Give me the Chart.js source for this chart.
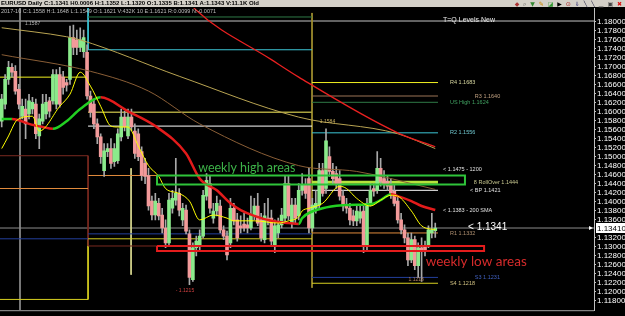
<!DOCTYPE html>
<html>
<head>
<meta charset="utf-8">
<script src="https://cdn.jsdelivr.net/npm/chart.js@4.4.0/dist/chart.umd.min.js"></script>
<style>
  html, body { margin: 0; padding: 0; background: #000; }
  #wrap { position: relative; width: 625px; height: 316px; overflow: hidden; background: #000; }
  #chart { position: absolute; left: 0; top: 0; }
  #titlebar { position: absolute; left: 0; top: 0; width: 625px; height: 7px; background: #d4d0c8;
    font: bold 6px "Liberation Sans", Arial, sans-serif; line-height: 7px; color: #000; white-space: nowrap; }
  #titlebar .t { position: absolute; left: 1px; top: 0; }
  #titlebar .icons { position: absolute; right: 2px; top: 0; font: 6px "DejaVu Sans", sans-serif; line-height: 7px; letter-spacing: 1px; }
  #info { position: absolute; left: 1px; top: 8px; font: 5.5px "Liberation Sans", Arial, sans-serif; color: #bdbdbd; white-space: nowrap; }
  #tq { position: absolute; left: 443px; top: 16px; font: 7px "Liberation Sans", Arial, sans-serif; color: #e8e8e8; white-space: nowrap; }
</style>
</head>
<body>
<div id="wrap">
  <canvas id="chart" width="625" height="316"></canvas>
  <div id="titlebar">
    <span class="t">EURUSD Daily C:1.1341 H0.0006 H:1.1352 L:1.1320 O:1.1335 B:1.1341 A:1.1343 V:11.1K Old</span>
    <span class="icons"><span style="color:#a33">◆</span> <span style="color:#555">⌕</span> <span style="color:#383">▼</span> <span style="color:#c80">✎</span> <span style="color:#393">◪</span> <span style="color:#000">▶</span> <span style="color:#a22">⊙</span> <span style="color:#337">⇓</span> <span style="color:#224">╲</span> <span style="color:#224">╲</span> <span style="color:#444">▁</span> <span style="color:#444">▣</span> <span style="color:#d11">✖</span></span>
  </div>
  <div id="info">2017-10 C:1.1558 H:1.1648 L:1.1549 O:1.1621 V:432K 10 E:1.1621 R:0.0099 N:-0.0071</div>
  <div id="tq">T=Q Levels New</div>
</div>
<script>
// daily candles: [open, high, low, close]
const candles = [
  [1.1579, 1.1639, 1.1566, 1.1628], [1.1617, 1.1683, 1.1606, 1.1672], [1.1672, 1.1712, 1.1661, 1.1699],
  [1.1699, 1.1707, 1.1677, 1.1688], [1.1690, 1.1703, 1.1639, 1.1646], [1.1650, 1.1661, 1.1606, 1.1617],
  [1.1590, 1.1628, 1.1584, 1.1612], [1.1606, 1.1628, 1.1540, 1.1573], [1.1595, 1.1639, 1.1584, 1.1624],
  [1.1606, 1.1632, 1.1595, 1.1621], [1.1617, 1.1628, 1.1540, 1.1551], [1.1546, 1.1595, 1.1518, 1.1584],
  [1.1579, 1.1639, 1.1573, 1.1617], [1.1595, 1.1639, 1.1584, 1.1621], [1.1624, 1.1632, 1.1588, 1.1601],
  [1.1624, 1.1694, 1.1617, 1.1683], [1.1617, 1.1694, 1.1606, 1.1683], [1.1683, 1.1699, 1.1610, 1.1617],
  [1.1677, 1.1690, 1.1639, 1.1654], [1.1665, 1.1672, 1.1646, 1.1659], [1.1672, 1.1791, 1.1661, 1.1765],
  [1.1765, 1.1793, 1.1727, 1.1743], [1.1760, 1.1782, 1.1727, 1.1743], [1.1743, 1.1787, 1.1734, 1.1760],
  [1.1734, 1.1782, 1.1721, 1.1765], [1.1732, 1.1749, 1.1628, 1.1635], [1.1635, 1.1646, 1.1588, 1.1599],
  [1.1617, 1.1628, 1.1562, 1.1573], [1.1573, 1.1584, 1.1529, 1.1544], [1.1544, 1.1551, 1.1485, 1.1500],
  [1.1469, 1.1529, 1.1456, 1.1513], [1.1511, 1.1529, 1.1500, 1.1518], [1.1518, 1.1540, 1.1474, 1.1485],
  [1.1489, 1.1529, 1.1478, 1.1518], [1.1491, 1.1562, 1.1485, 1.1551], [1.1544, 1.1606, 1.1535, 1.1588],
  [1.1588, 1.1601, 1.1557, 1.1566], [1.1546, 1.1606, 1.1540, 1.1588], [1.1588, 1.1606, 1.1557, 1.1566],
  [1.1557, 1.1573, 1.1496, 1.1507], [1.1551, 1.1562, 1.1491, 1.1500], [1.1511, 1.1522, 1.1447, 1.1458],
  [1.1485, 1.1496, 1.1440, 1.1456], [1.1458, 1.1474, 1.1381, 1.1390], [1.1401, 1.1412, 1.1359, 1.1370],
  [1.1370, 1.1418, 1.1359, 1.1401], [1.1396, 1.1407, 1.1359, 1.1368], [1.1370, 1.1385, 1.1330, 1.1341],
  [1.1341, 1.1359, 1.1297, 1.1308], [1.1308, 1.1418, 1.1301, 1.1403], [1.1385, 1.1425, 1.1374, 1.1407],
  [1.1403, 1.1496, 1.1392, 1.1418], [1.1418, 1.1429, 1.1368, 1.1381], [1.1359, 1.1396, 1.1346, 1.1385],
  [1.1381, 1.1392, 1.1328, 1.1334], [1.1328, 1.1337, 1.1215, 1.1231], [1.1226, 1.1308, 1.1222, 1.1297],
  [1.1297, 1.1323, 1.1279, 1.1312], [1.1303, 1.1337, 1.1292, 1.1323], [1.1323, 1.1425, 1.1319, 1.1414],
  [1.1412, 1.1462, 1.1403, 1.1447], [1.1440, 1.1456, 1.1374, 1.1385], [1.1363, 1.1396, 1.1352, 1.1379],
  [1.1379, 1.1412, 1.1368, 1.1396], [1.1390, 1.1403, 1.1330, 1.1337], [1.1337, 1.1346, 1.1315, 1.1323],
  [1.1323, 1.1334, 1.1270, 1.1281], [1.1308, 1.1407, 1.1297, 1.1385], [1.1385, 1.1396, 1.1348, 1.1357],
  [1.1359, 1.1374, 1.1312, 1.1319], [1.1346, 1.1368, 1.1330, 1.1341], [1.1350, 1.1374, 1.1334, 1.1341],
  [1.1348, 1.1363, 1.1330, 1.1341], [1.1341, 1.1412, 1.1337, 1.1370], [1.1368, 1.1407, 1.1359, 1.1390],
  [1.1390, 1.1418, 1.1346, 1.1352], [1.1359, 1.1374, 1.1312, 1.1319], [1.1315, 1.1396, 1.1308, 1.1368],
  [1.1363, 1.1407, 1.1348, 1.1357], [1.1363, 1.1381, 1.1301, 1.1312], [1.1301, 1.1359, 1.1286, 1.1346],
  [1.1330, 1.1363, 1.1319, 1.1348], [1.1348, 1.1385, 1.1341, 1.1370], [1.1363, 1.1458, 1.1352, 1.1440],
  [1.1440, 1.1458, 1.1359, 1.1368], [1.1352, 1.1407, 1.1341, 1.1392], [1.1392, 1.1407, 1.1352, 1.1363],
  [1.1368, 1.1440, 1.1359, 1.1425], [1.1425, 1.1462, 1.1414, 1.1436], [1.1436, 1.1451, 1.1407, 1.1418],
  [1.1451, 1.1474, 1.1330, 1.1341], [1.1341, 1.1407, 1.1334, 1.1392], [1.1385, 1.1425, 1.1374, 1.1396],
  [1.1392, 1.1485, 1.1385, 1.1469], [1.1469, 1.1485, 1.1412, 1.1418], [1.1429, 1.1562, 1.1418, 1.1535],
  [1.1500, 1.1522, 1.1456, 1.1467], [1.1467, 1.1485, 1.1440, 1.1451], [1.1462, 1.1478, 1.1429, 1.1440],
  [1.1451, 1.1469, 1.1403, 1.1412], [1.1412, 1.1425, 1.1379, 1.1390], [1.1392, 1.1407, 1.1374, 1.1385],
  [1.1385, 1.1396, 1.1348, 1.1359], [1.1368, 1.1381, 1.1346, 1.1357], [1.1357, 1.1390, 1.1346, 1.1379],
  [1.1363, 1.1390, 1.1352, 1.1377], [1.1379, 1.1390, 1.1286, 1.1301], [1.1301, 1.1407, 1.1292, 1.1396],
  [1.1396, 1.1440, 1.1390, 1.1425], [1.1429, 1.1440, 1.1412, 1.1423], [1.1425, 1.1511, 1.1418, 1.1474],
  [1.1474, 1.1496, 1.1434, 1.1445], [1.1451, 1.1469, 1.1429, 1.1440], [1.1445, 1.1458, 1.1425, 1.1434],
  [1.1436, 1.1451, 1.1407, 1.1418], [1.1423, 1.1436, 1.1390, 1.1396], [1.1401, 1.1412, 1.1352, 1.1359],
  [1.1359, 1.1374, 1.1328, 1.1337], [1.1337, 1.1348, 1.1308, 1.1319], [1.1319, 1.1330, 1.1257, 1.1270],
  [1.1270, 1.1330, 1.1264, 1.1315], [1.1315, 1.1323, 1.1248, 1.1257], [1.1257, 1.1308, 1.1231, 1.1297],
  [1.1297, 1.1319, 1.1222, 1.1290], [1.1301, 1.1312, 1.1279, 1.1292], [1.1303, 1.1346, 1.1297, 1.1337],
  [1.1330, 1.1374, 1.1319, 1.1337], [1.1335, 1.1352, 1.1320, 1.1341]
];

// moving averages as [candle index, price]
const fastMA = [[0,1.1518],[2,1.1546],[4,1.1577],[5,1.1584],[9,1.1590],[11,1.1557],[17,1.1612],[20,1.1639],
  [23,1.1688],[26,1.1657],[29,1.1612],[32,1.1568],[34,1.1566],[37,1.1566],[40,1.1524],[43,1.1480],[46,1.1456],
  [48,1.1429],[52,1.1418],[55,1.1401],[58,1.1359],[62,1.1370],[66,1.1363],[68,1.1357],[74,1.1357],[81,1.1352],
  [84,1.1357],[87,1.1366],[88,1.1379],[90,1.1385],[94,1.1396],[99,1.1434],[101,1.1429],[104,1.1407],
  [108,1.1390],[111,1.1403],[114,1.1414],[116,1.1412],[120,1.1379],[123,1.1346],[127,1.1337]];
const trendMA = [[0,1.1584],[3,1.1584],[5,1.1581],[8,1.1573],[12,1.1566],[15,1.1562],[19,1.1579],[23,1.1606],
  [29,1.1632],[37,1.1601],[45,1.1568],[54,1.1507],[58,1.1451],[63,1.1425],[67,1.1396],[70,1.1381],[74,1.1368],
  [79,1.1357],[84,1.1352],[87,1.1350],[88,1.1363],[94,1.1385],[100,1.1392],[105,1.1393],[108,1.1394],
  [111,1.1403],[114,1.1416],[116,1.1412],[120,1.1401],[123,1.1390],[127,1.1381]];
const tanMA = [[0,1.1787],[19,1.1767],[23,1.1760],[52,1.1679],[87,1.1588],[116,1.1551],[127,1.1518]];
const brownMA = [[0,1.1727],[26,1.1690],[43,1.1646],[58,1.1573],[87,1.1480],[104,1.1467],[127,1.1427]];
const redMA = [[50,1.1890],[57,1.1826],[79,1.1716],[87,1.1677],[116,1.1553],[127,1.1522]];

const tickValues = [1.118, 1.120, 1.122, 1.124, 1.126, 1.128, 1.130, 1.132, 1.136, 1.138, 1.140, 1.142,
  1.144, 1.146, 1.148, 1.150, 1.152, 1.154, 1.156, 1.158, 1.160, 1.162, 1.164, 1.166, 1.168, 1.170, 1.172,
  1.174, 1.176, 1.178, 1.180];
const bidPrice = 1.1341;
const topLine = 1.1802;

// pivot periods start at these candle indexes; level prices per period
const periodEdges = [-0.5, 25.3, 90.9, 127.8];
const levelYellow = [1.1677, null, 1.1665];
const levelBrown = [null, null, 1.1635];
const levelGreen = [null, 1.1811, 1.1621];
const levelCyan = [null, 1.1738, 1.1553];
const levelOlive = [null, 1.1599, null];
const levelWhite = [null, 1.1568, 1.1425];
const levelOrange = [1.1429, 1.1458, 1.1330];
const levelMaroon = [1.1502, 1.1301, null];
const levelBlue = [1.1317, 1.1328, 1.1231];
const levelGold = [1.1182, 1.1317, 1.1218];
const levelRollover = [null, null, 1.1443];

// vertical markers: [candle index, from price, to price]
const vGrey = [5.36, 1.1831, 1.1158];
const vCyan = [25.3, 1.1831, 1.1738];
const vMaroon = [25.3, 1.1502, 1.1301];
const vGold = [25.3, 1.1317, 1.1182];
const vOlive = [90.9, 1.1820, 1.1208];
const vPale = [37.9, 1.1474, 1.1237];

// zones: [from index, to index, top price, bottom price]
const highZone = [45.5, 135.7, 1.1458, 1.1438];
const lowZone = [45.5, 141.3, 1.1301, 1.1290];

const notes = [
  { text: 'weekly high areas', x: 71.8, y: 1.1474, color: '#3db349', font: '12.5px Lato', align: 'center' },
  { text: 'weekly low areas', x: 139.0, y: 1.1266, color: '#d62b2b', font: '13.5px Lato', align: 'center' },
  { text: '< 1.1341', x: 136.6, y: 1.1342, color: '#ffffff', font: '10px "Liberation Sans"' },
  { text: '< 1.1475 - 1200', x: 129.3, y: 1.1471, color: '#e0e0e0', font: '5.5px "Liberation Sans"' },
  { text: '8 RollOver 1.1444', x: 138.3, y: 1.1443, color: '#c8c890', font: '5.5px "Liberation Sans"' },
  { text: '< BP 1.1421', x: 137.2, y: 1.1425, color: '#e0e0e0', font: '5.5px "Liberation Sans"' },
  { text: '< 1.1383 - 200 SMA', x: 129.3, y: 1.1381, color: '#e0e0e0', font: '5.5px "Liberation Sans"' },
  { text: 'R1 1.1332', x: 131.3, y: 1.1328, color: '#b09070', font: '5.5px "Liberation Sans"' },
  { text: 'R4 1.1683', x: 131.3, y: 1.1665, color: '#d8d8a0', font: '5.5px "Liberation Sans"' },
  { text: 'R3 1.1640', x: 138.6, y: 1.1635, color: '#c0a080', font: '5.5px "Liberation Sans"' },
  { text: 'US High 1.1624', x: 131.3, y: 1.1620, color: '#40a060', font: '5.5px "Liberation Sans"' },
  { text: 'R2 1.1556', x: 131.3, y: 1.1553, color: '#70c8d0', font: '5.5px "Liberation Sans"' },
  { text: 'S3 1.1231', x: 138.6, y: 1.1230, color: '#4060c0', font: '5.5px "Liberation Sans"' },
  { text: 'S4 1.1218', x: 131.3, y: 1.1218, color: '#d0c080', font: '5.5px "Liberation Sans"' },
  { text: '1.1218', x: 121.4, y: 1.1226, color: '#b08060', font: '5px "Liberation Sans"', align: 'center' },
  { text: '- 1.1215', x: 51.0, y: 1.1202, color: '#d04040', font: '5px "Liberation Sans"' },
  { text: '1.1584', x: 93.2, y: 1.1577, color: '#c8b060', font: '5px "Liberation Sans"' },
  { text: '1.1587', x: 6.8, y: 1.1797, color: '#b0b0b0', font: '5px "Liberation Sans"' }
];

const xMin = -0.5, xMax = 173.5, yMin = 1.1158, yMax = 1.1831;

const pts = a => a.map(([x, y]) => ({ x, y }));
const isBull = c => c[3] >= c[0];
const datasets = [];
const line = (data, color, width, order, extra) => Object.assign({
  type: 'line', data, borderColor: color, borderWidth: width, pointRadius: 0, fill: false, tension: 0, order
}, extra || {});

// zones on top
[[highZone, '#2fc43a'], [lowZone, '#e41c1c']].forEach(([z, color]) => {
  datasets.push(line([{ x: z[0], y: z[2] }, { x: z[1], y: z[2] }, { x: z[1], y: z[3] },
    { x: z[0], y: z[3] }, { x: z[0], y: z[2] }], color, 2, 0));
});

// moving averages
datasets.push(line(pts(fastMA), '#ffff00', 1, 1, { cubicInterpolationMode: 'monotone' }));
datasets.push(line(pts(trendMA), '#22d022', 2.5, 1, {
  cubicInterpolationMode: 'monotone',
  segment: { borderColor: ctx => ctx.p1.parsed.y >= ctx.p0.parsed.y ? '#22d022' : '#e31b1b' }
}));
datasets.push(line(pts(redMA), '#e82020', 1.3, 1, { cubicInterpolationMode: 'monotone' }));
datasets.push(line(pts(tanMA), '#b9a452', 1, 1, { cubicInterpolationMode: 'monotone' }));
datasets.push(line(pts(brownMA), '#8a5e36', 1, 1, { cubicInterpolationMode: 'monotone' }));

// candles
datasets.push({
  type: 'bar', order: 2, grouped: false, barThickness: 3, minBarLength: 1, borderWidth: 0,
  data: candles.map((c, i) => ({ x: i, y: [Math.min(c[0], c[3]), Math.max(c[0], c[3])] })),
  backgroundColor: candles.map(c => isBull(c) ? '#8bea8b' : '#f29a9a')
});
datasets.push({
  type: 'bar', order: 3, grouped: false, barThickness: 1, borderWidth: 0,
  data: candles.map((c, i) => ({ x: i, y: [c[2], c[1]] })),
  backgroundColor: '#a8a8a8'
});

// level segments
[[levelYellow, '#f0f020', 1], [levelBrown, '#9c7456', 1], [levelGreen, '#2f7a47', 1], [levelCyan, '#3cc6d6', 1],
 [levelOlive, '#a9a23e', 1.5], [levelWhite, '#ffffff', 1], [levelOrange, '#e08a3c', 1], [levelMaroon, '#7a2a20', 1],
 [levelBlue, '#233f9c', 1], [levelGold, '#d8d020', 1], [levelRollover, '#b6e23c', 3]].forEach(([arr, color, w]) => {
  arr.forEach((v, p) => {
    if (v == null) return;
    datasets.push(line([{ x: periodEdges[p], y: v }, { x: periodEdges[p + 1], y: v }], color, w, 4));
  });
});

// verticals
[[vGrey, '#8a8a8a'], [vCyan, '#3cc6d6'], [vMaroon, '#7a2a20'], [vGold, '#d8d020'], [vOlive, '#a09030'],
 [vPale, '#d8d890']].forEach(([v, color]) => {
  datasets.push(line([{ x: v[0], y: v[1] }, { x: v[0], y: v[2] }], color, 1, 4));
});

// bid line and top line
datasets.push(line([{ x: xMin, y: bidPrice }, { x: xMax, y: bidPrice }], '#8c8c8c', 1, 4));
datasets.push(line([{ x: xMin, y: topLine }, { x: xMax, y: topLine }], '#c4c4c4', 1, 4));

const overlay = {
  id: 'overlay',
  afterDatasetsDraw(chart) {
    const { ctx, chartArea, scales: { x, y } } = chart;
    ctx.save();
    ctx.textBaseline = 'middle';
    notes.forEach(n => {
      ctx.font = n.font;
      ctx.fillStyle = n.color;
      ctx.textAlign = n.align || 'left';
      ctx.fillText(n.text, x.getPixelForValue(n.x), y.getPixelForValue(n.y));
    });
    // bottom border
    ctx.strokeStyle = '#a0a0a0';
    ctx.lineWidth = 1;
    ctx.beginPath();
    ctx.moveTo(0, chartArea.bottom + 0.5);
    ctx.lineTo(chartArea.right, chartArea.bottom + 0.5);
    ctx.stroke();
    // current price tag
    const py = Math.round(y.getPixelForValue(bidPrice));
    ctx.fillStyle = '#ffffff';
    ctx.fillRect(y.left + 2, py - 5, 29, 10);
    ctx.beginPath();
    ctx.moveTo(y.left - 5, py - 2); ctx.lineTo(y.left - 1, py); ctx.lineTo(y.left - 5, py + 2); ctx.closePath();
    ctx.fill();
    ctx.fillStyle = '#000';
    ctx.font = '8px "Liberation Sans"';
    ctx.textAlign = 'left';
    ctx.fillText(bidPrice.toFixed(5), y.left + 3, py + 0.5);
    ctx.restore();
  }
};

new Chart(document.getElementById('chart'), {
  type: 'bar',
  data: { datasets },
  options: {
    responsive: false,
    animation: false,
    events: [],
    layout: { padding: { top: 8, bottom: 2, left: 0, right: 0 } },
    plugins: { legend: { display: false }, tooltip: { enabled: false } },
    scales: {
      x: { type: 'linear', min: xMin, max: xMax, offset: false, display: false },
      y: {
        position: 'right', min: yMin, max: yMax,
        afterBuildTicks: s => { s.ticks = tickValues.map(v => ({ value: v })); },
        afterFit: s => { s.width = 31; },
        grid: { display: true, drawOnChartArea: false, drawTicks: true, tickLength: 2, color: '#c0c0c0' },
        border: { display: true, color: '#c0c0c0' },
        ticks: {
          autoSkip: false, color: '#ffffff', padding: 1,
          font: { family: '"Liberation Sans", Arial, sans-serif', size: 8 },
          callback: v => Number(v).toFixed(5)
        }
      }
    }
  },
  plugins: [overlay]
});
</script>
</body>
</html>
